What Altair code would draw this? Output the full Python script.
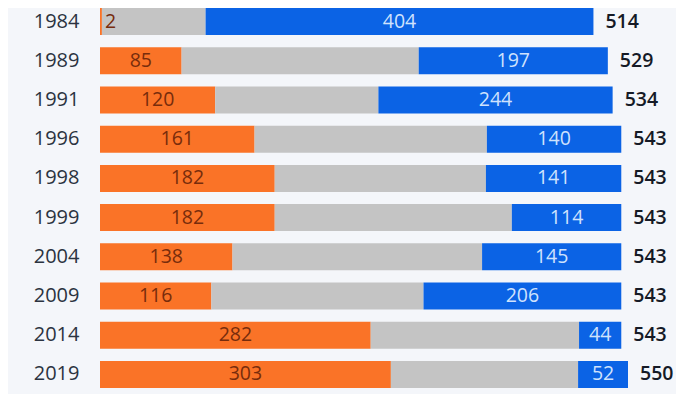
import altair as alt
import pandas as pd

years = ["1984", "1989", "1991", "1996", "1998", "1999", "2004", "2009", "2014", "2019"]
bjp = [2, 85, 120, 161, 182, 182, 138, 116, 282, 303]
inc = [404, 197, 244, 140, 141, 114, 145, 206, 44, 52]
total = [514, 529, 534, 543, 543, 543, 543, 543, 543, 550]

rows = []
for y, b, c, t in zip(years, bjp, inc, total):
    o = t - b - c
    rows.append(dict(year=y, series="BJP", start=0, end=b, value=b))
    rows.append(dict(year=y, series="Others", start=b, end=b + o, value=o))
    rows.append(dict(year=y, series="INC", start=b + o, end=t, value=c))
df = pd.DataFrame(rows)
df["mid"] = (df["start"] + df["end"]) / 2
tot = pd.DataFrame(dict(year=years, total=total))

FONT = "Open Sans"
xs = alt.Scale(domain=[0, 600], nice=False, zero=True)
ys = alt.Scale(paddingInner=0.311, paddingOuter=0.1555)

yenc = alt.Y("year:N", sort=years, scale=ys,
             axis=alt.Axis(title=None, domain=False, ticks=False, labelFontSize=20,
                           labelFont=FONT, labelColor="#2b3340", labelPadding=21))

bars = alt.Chart(df).mark_bar(cornerRadius=0).encode(
    x=alt.X("start:Q", scale=xs, axis=None),
    x2="end:Q",
    y=yenc,
    color=alt.Color("series:N", scale=alt.Scale(domain=["BJP", "Others", "INC"],
                                                range=["#fa7327", "#c4c4c4", "#0b63e5"]),
                    legend=None),
)

orange_big = alt.Chart(df).transform_filter(
    (alt.datum.series == "BJP") & (alt.datum.value >= 10)
).mark_text(fontSize=19.5, font=FONT, color="#772c0c").encode(
    x=alt.X("mid:Q", scale=xs, axis=None), y=yenc, text="value:Q")

orange_small = alt.Chart(df).transform_filter(
    (alt.datum.series == "BJP") & (alt.datum.value < 10)
).mark_text(fontSize=19.5, font=FONT, color="#772c0c", align="left", dx=3).encode(
    x=alt.X("end:Q", scale=xs, axis=None), y=yenc, text="value:Q")

blue = alt.Chart(df).transform_filter(alt.datum.series == "INC").mark_text(
    fontSize=19.5, font=FONT, color="#cfe2fd").encode(
    x=alt.X("mid:Q", scale=xs, axis=None), y=yenc, text="value:Q")

totals = alt.Chart(tot).mark_text(fontSize=19.5, font=FONT, fontWeight=600, color="#151a26",
                                  align="left", dx=12).encode(
    x=alt.X("total:Q", scale=xs, axis=None), y=yenc, text="total:Q")

chart = alt.layer(bars, orange_big, orange_small, blue, totals).properties(
    width=576, height=392, background="#f4f6fa",
    padding={"left": 92, "top": -6, "right": 0, "bottom": 0},
    autosize=alt.AutoSizeParams(type="none"),
).configure_view(stroke=None)

chart.save("out.html", embed_options={"renderer": "svg", "actions": False})
